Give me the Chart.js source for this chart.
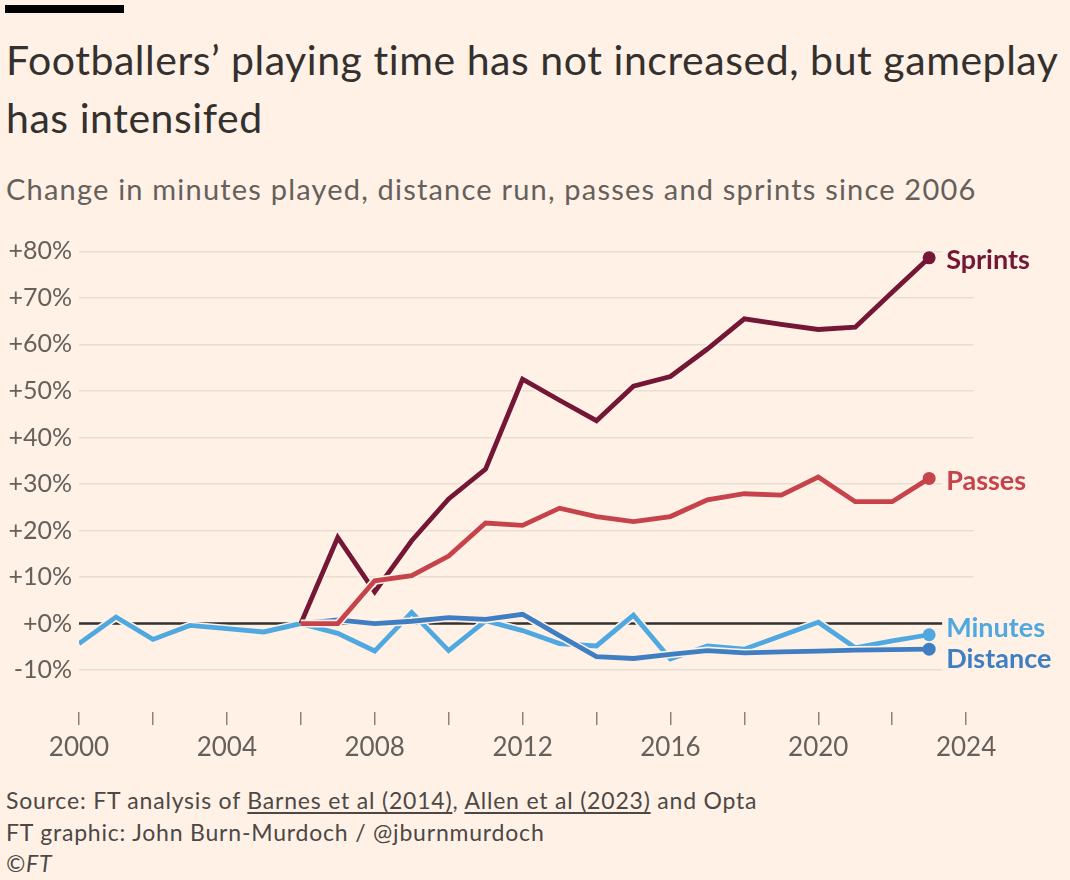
<!DOCTYPE html>
<html><head><meta charset="utf-8">
<script src="https://cdn.jsdelivr.net/npm/chart.js@4.4.1/dist/chart.umd.min.js"></script>
<style>
html,body{margin:0;padding:0;background:#FFF1E5;}
body{width:1070px;height:880px;position:relative;overflow:hidden;font-family:Lato,"Open Sans",sans-serif;}
#bar{position:absolute;left:5px;top:5px;width:119px;height:8px;background:#000;}
#title{position:absolute;left:6px;top:31px;width:1064px;font-size:41px;letter-spacing:0.55px;line-height:58px;color:#33302e;}
#sub{position:absolute;left:6px;top:172px;width:1064px;font-size:29px;letter-spacing:1.2px;line-height:34px;color:#66605c;white-space:nowrap;}
#wrap{position:absolute;left:0;top:220px;width:1070px;height:560px;}
#foot{position:absolute;left:6px;top:785px;width:1060px;font-size:23px;letter-spacing:0.8px;line-height:31.5px;color:#4d4845;white-space:nowrap;}
#foot u{text-decoration-thickness:1.5px;text-underline-offset:3px;}
</style></head>
<body>
<div id="bar"></div>
<div id="title">Footballers’ playing time has not increased, but gameplay has intensifed</div>
<div id="sub">Change in minutes played, distance run, passes and sprints since 2006</div>
<div id="wrap"><canvas id="c"></canvas></div>
<div id="foot">Source: FT analysis of <u>Barnes et al (2014)</u>, <u>Allen et al (2023)</u> and Opta<br>FT graphic: John Burn-Murdoch / @jburnmurdoch<br><i>©FT</i></div>
<script>
const years = [2000,2001,2002,2003,2004,2005,2006,2007,2008,2009,2010,2011,2012,2013,2014,2015,2016,2017,2018,2019,2020,2021,2022,2023];
const minutes  = [-4.3,1.4,-3.4,-0.4,-1.1,-1.8,0,-2.1,-5.9,2.4,-5.8,0.6,-1.5,-4.3,-4.8,1.8,-7.6,-4.8,-5.5,-2.6,0.3,-5.2,-3.7,-2.4];
const distance = [null,null,null,null,null,null,0,0.8,0,0.5,1.3,0.9,2.0,-2.6,-7.1,-7.5,-6.6,-5.8,-6.3,-6.1,-5.9,-5.7,-5.6,-5.5];
const passes   = [null,null,null,null,null,null,0,0,9.2,10.3,14.5,21.6,21.1,24.8,23.0,21.9,23.0,26.6,27.9,27.6,31.5,26.2,26.2,31.2];
const sprints  = [null,null,null,null,null,null,0,18.5,6.8,17.8,26.8,33.2,52.5,48.0,43.6,51.0,53.1,59.0,65.5,64.3,63.2,63.7,71.2,78.6];
const seriesNames = ['Passes','Sprints','Distance','Minutes'];
const yTicks = [-10,0,10,20,30,40,50,60,70,80];
const xTicks = [2000,2002,2004,2006,2008,2010,2012,2014,2016,2018,2020,2022,2024];
const xLabels = [2000,2004,2008,2012,2016,2020,2024];

const BG = '#FFF1E5';
const colors = {Passes:'#c6434c', Sprints:'#741736', Distance:'#3f7ec2', Minutes:'#4fa9e0'};
const labelDy = {Passes:3, Sprints:2, Distance:10, Minutes:-6};
const valuesByName = {Passes:passes, Sprints:sprints, Distance:distance, Minutes:minutes};

const datasets = seriesNames.map((name, k) => ({
  label: name,
  data: years.map((yr, i) => ({x: yr, y: valuesByName[name][i]})),
  borderColor: colors[name],
  backgroundColor: colors[name],
  borderWidth: 4.8,
  order: k + 1,
  tension: 0,
  spanGaps: false,
  borderJoinStyle: 'miter',
  pointRadius: c => c.dataIndex === years.length - 1 ? 6.5 : 0,
  pointHoverRadius: 0,
  pointBorderWidth: 0,
  pointBackgroundColor: colors[name]
}));

const halo = {
  id: 'halo',
  beforeDatasetsDraw(chart) {
    const ctx = chart.ctx, a = chart.chartArea, y0 = chart.scales.y.getPixelForValue(0);
    ctx.save();
    ctx.strokeStyle = '#33302e';
    ctx.lineWidth = 2.5;
    ctx.beginPath(); ctx.moveTo(a.left, y0); ctx.lineTo(a.right, y0); ctx.stroke();
    ctx.restore();
  },
  beforeDatasetDraw(chart, args) {
    const ctx = chart.ctx, pts = args.meta.data;
    ctx.save();
    ctx.strokeStyle = BG;
    ctx.lineWidth = 8;
    ctx.lineJoin = 'miter';
    ctx.beginPath();
    let started = false;
    pts.forEach(p => {
      if (p.skip || isNaN(p.y)) { started = false; return; }
      if (!started) { ctx.moveTo(p.x, p.y); started = true; } else ctx.lineTo(p.x, p.y);
    });
    ctx.stroke();
    ctx.restore();
  },
  afterDatasetsDraw(chart) {
    const ctx = chart.ctx;
    ctx.save();
    ctx.font = 'bold 27px Lato, sans-serif';
    ctx.textBaseline = 'middle';
    chart.data.datasets.forEach((ds, i) => {
      const meta = chart.getDatasetMeta(i);
      const p = meta.data[meta.data.length - 1];
      const name = ds.label;
      const tx = p.x + 17, ty = p.y + labelDy[name];
      const w = ctx.measureText(name).width;
      ctx.fillStyle = BG;
      ctx.fillRect(tx - 4, ty - 13, w + 8, 26);
      ctx.fillStyle = colors[name];
      ctx.fillText(name, tx, ty);
    });
    ctx.restore();
  }
};

new Chart(document.getElementById('c'), {
  type: 'line',
  data: { datasets },
  plugins: [halo],
  options: {
    responsive: true,
    maintainAspectRatio: false,
    animation: false,
    events: [],
    layout: { padding: { top: 20, right: 96.5, left: 0, bottom: 0 } },
    plugins: { legend: { display: false }, tooltip: { enabled: false } },
    scales: {
      x: {
        type: 'linear', min: 2000, max: 2024.2,
        afterBuildTicks: s => { s.ticks = xTicks.map(v => ({value: v})); },
        afterFit: s => { s.height = 68; },
        border: { display: false },
        grid: { drawOnChartArea: false, drawTicks: true, tickLength: 13, color: '#8a847e', lineWidth: 1.5 },
        ticks: {
          autoSkip: false, maxRotation: 0, padding: 7,
          color: '#66605c', font: { family: 'Lato', size: 26 },
          callback: v => xLabels.includes(v) ? String(v) : ''
        }
      },
      y: {
        type: 'linear', min: -19, max: 82,
        afterBuildTicks: s => { s.ticks = yTicks.map(v => ({value: v})); },
        afterFit: s => { s.width = 79; },
        border: { display: false },
        grid: { drawTicks: false, color: '#e9ddd1', lineWidth: 1.5 },
        ticks: {
          padding: 7, color: '#66605c', font: { family: 'Lato', size: 25 },
          callback: v => (v >= 0 ? '+' : '') + v + '%'
        }
      }
    }
  }
});
</script>
</body></html>
